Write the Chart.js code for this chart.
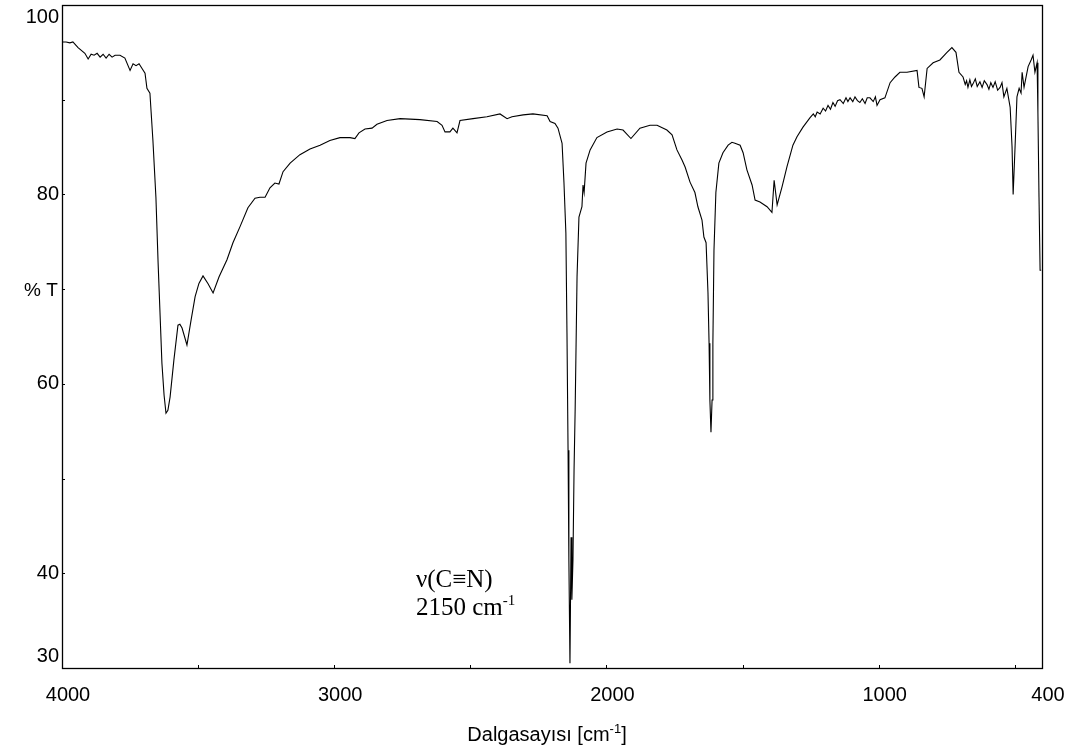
<!DOCTYPE html>
<html lang="tr">
<head>
<meta charset="utf-8">
<title>IR spektrumu</title>
<script src="https://cdn.jsdelivr.net/npm/chart.js@4.4.1/dist/chart.umd.min.js"></script>
<style>
    html, body { margin: 0; padding: 0; background: #fff; }
    #wrap { width: 1076px; height: 751px; }
</style>
</head>
<body>
<div id="wrap"><canvas id="irChart" width="1076" height="751"></canvas></div>
<script>
// Número de onda (cm-1)
const wavenumbers = [
    4000, 3985, 3971, 3960, 3941, 3916, 3904, 3893, 3882, 3871, 3860, 3849, 3838, 3827, 3816, 3805,
    3787, 3769, 3750, 3739, 3728, 3717, 3706, 3695, 3688, 3677, 3666, 3655, 3647, 3640, 3633, 3625,
    3618, 3611, 3603, 3589, 3574, 3567, 3559, 3541, 3526, 3511, 3497, 3482, 3464, 3445, 3423, 3394,
    3372, 3346, 3317, 3291, 3273, 3254, 3236, 3218, 3203, 3188, 3162, 3126, 3089, 3052, 3016, 2979,
    2942, 2924, 2909, 2887, 2861, 2843, 2806, 2758, 2685, 2622, 2604, 2593, 2575, 2564, 2549, 2538,
    2490, 2439, 2391, 2365, 2347, 2306, 2270, 2218, 2207, 2189, 2178, 2163, 2156, 2149, 2145, 2141,
    2138, 2134, 2130, 2127, 2123, 2119, 2115, 2108, 2101, 2090, 2086, 2082, 2075, 2060, 2035, 1998,
    1961, 1939, 1910, 1877, 1840, 1814, 1778, 1759, 1741, 1722, 1711, 1693, 1675, 1664, 1649, 1642,
    1634, 1627, 1623, 1620, 1616, 1612, 1609, 1605, 1598, 1587, 1572, 1553, 1539, 1528, 1509, 1498,
    1484, 1465, 1454, 1436, 1410, 1392, 1384, 1373, 1355, 1337, 1315, 1300, 1278, 1252, 1240, 1233,
    1226, 1215, 1204, 1195, 1186, 1177, 1168, 1160, 1151, 1142, 1130, 1120, 1113, 1105, 1095, 1087,
    1078, 1069, 1060, 1050, 1042, 1032, 1020, 1012, 1006, 995, 977, 958, 940, 922, 896, 859,
    852, 841, 833, 822, 800, 775, 749, 731, 716, 705, 690, 682, 677, 672, 665, 659,
    653, 645, 638, 628, 620, 612, 602, 595, 588, 580, 572, 563, 554, 547, 540, 529,
    517, 510, 506, 499, 492, 484, 477, 473, 466, 451, 440, 433, 426, 418, 415, 411,
    407, 403
];

// Transmitância (%T)
const transmittance = [
    96.1, 96.1, 96.0, 96.1, 95.5, 94.9, 94.3, 94.8, 94.7, 94.9, 94.5, 94.8, 94.4, 94.8, 94.5, 94.7,
    94.7, 94.4, 93.1, 93.8, 93.6, 93.8, 93.3, 92.8, 91.2, 90.7, 85.7, 79.7, 72.8, 67.5, 62.2, 58.8,
    56.9, 57.2, 58.6, 62.5, 66.2, 66.3, 65.9, 64.1, 66.7, 69.2, 70.6, 71.4, 70.6, 69.6, 71.3, 73.1,
    74.9, 76.6, 78.6, 79.6, 79.7, 79.7, 80.7, 81.2, 81.1, 82.4, 83.3, 84.2, 84.8, 85.2, 85.7, 86.0,
    86.0, 85.9, 86.5, 86.9, 87.0, 87.4, 87.8, 88.0, 87.9, 87.7, 87.3, 86.6, 86.6, 87.0, 86.5, 87.8,
    88.0, 88.2, 88.5, 88.0, 88.2, 88.4, 88.5, 88.3, 87.7, 87.5, 87.0, 85.4, 81.2, 75.9, 65.4, 53.0,
    41.4, 30.5, 43.8, 37.2, 41.4, 50.9, 57.2, 71.3, 77.6, 78.7, 81.0, 80.2, 83.3, 84.7, 86.0, 86.6,
    86.9, 86.8, 85.9, 87.0, 87.3, 87.3, 86.8, 86.3, 84.7, 83.6, 82.9, 81.3, 80.2, 78.7, 77.3, 75.5,
    74.9, 69.6, 64.3, 58.3, 54.9, 58.3, 64.3, 74.1, 80.2, 83.3, 84.4, 85.2, 85.5, 85.4, 85.2, 84.4,
    82.6, 81.0, 79.4, 79.2, 78.7, 78.1, 81.5, 78.9, 80.8, 82.9, 85.2, 86.1, 87.1, 88.1, 88.5, 88.2,
    88.7, 88.5, 89.1, 88.8, 89.4, 89.0, 89.7, 89.3, 89.9, 90.0, 89.6, 90.2, 89.8, 90.2, 89.8, 90.3,
    89.9, 89.7, 90.1, 89.6, 90.2, 90.2, 89.8, 90.3, 89.4, 90.0, 90.2, 91.8, 92.4, 92.9, 92.9, 93.1,
    91.3, 91.2, 90.3, 93.3, 93.9, 94.2, 95.0, 95.5, 95.0, 92.9, 92.4, 91.6, 92.0, 91.3, 92.1, 91.4,
    91.7, 92.2, 91.4, 91.9, 91.3, 92.0, 91.6, 91.1, 91.8, 91.3, 91.9, 91.0, 91.3, 91.8, 90.3, 91.2,
    89.2, 85.0, 80.0, 85.0, 90.3, 91.2, 90.7, 92.9, 91.3, 93.5, 94.2, 94.7, 92.9, 93.9, 88.6, 79.7,
    72.0, 72.0
];

// Marcas e rótulos dos eixos
const xTickValues = [4000, 3500, 3000, 2500, 2000, 1500, 1000, 500, 400];
const xLabelValues = [4000, 3000, 2000, 1000, 400];
const yTickValues = [30, 40, 50, 60, 70, 80, 90, 100];
const yLabelValues = [30, 40, 60, 80, 100];

// Textos
const xTitle = 'Dalgasayısı [cm';
const yTitle = '% T';
const bandName = 'ν(C≡N)';
const bandPosition = '2150 cm';

const sansFont = '"Liberation Sans", Arial, sans-serif';
const serifFont = '"Liberation Serif", "Times New Roman", serif';

// Escreve um texto com expoente "-1"
function drawWithSup(ctx, parts, x, y, align) {
    let total = 0;
    parts.forEach(p => {
        ctx.font = p.font;
        total += ctx.measureText(p.text).width;
    });
    let cx = align === 'center' ? x - total / 2 : x;
    parts.forEach(p => {
        ctx.font = p.font;
        ctx.fillText(p.text, cx, y + (p.dy || 0));
        cx += ctx.measureText(p.text).width;
    });
}

// Moldura, marcas internas e textos extras
const extrasPlugin = {
    id: 'extras',
    afterDraw(chart) {
        const ctx = chart.ctx;
        const area = chart.chartArea;
        const xs = chart.scales.x;
        const ys = chart.scales.y;

        ctx.save();
        ctx.strokeStyle = '#000';
        ctx.lineWidth = 1.3;
        ctx.strokeRect(area.left + 0.5, area.top + 0.5, area.right - area.left, area.bottom - area.top);

        ctx.lineWidth = 1;
        ctx.beginPath();
        xTickValues.forEach(v => {
            const px = Math.round(xs.getPixelForValue(v)) + 0.5;
            ctx.moveTo(px, area.bottom);
            ctx.lineTo(px, area.bottom - 3);
        });
        yTickValues.forEach(v => {
            const py = Math.round(ys.getPixelForValue(v)) + 0.5;
            ctx.moveTo(area.left, py);
            ctx.lineTo(area.left + 3, py);
        });
        ctx.stroke();

        ctx.fillStyle = '#000';
        ctx.textBaseline = 'alphabetic';
        ctx.textAlign = 'left';

        // Título do eixo x
        drawWithSup(ctx, [
            { text: xTitle, font: '20px ' + sansFont },
            { text: '-1', font: '13px ' + sansFont, dy: -8 },
            { text: ']', font: '20px ' + sansFont }
        ], (area.left + area.right) / 2 - 5, 741, 'center');

        // Título do eixo y (horizontal)
        ctx.font = '19px ' + sansFont;
        ctx.fillText(yTitle, 24, ys.getPixelForValue(70) + 7);

        // Anotação da banda C≡N
        const ax = xs.getPixelForValue(2700);
        const ay = ys.getPixelForValue(38.5);
        ctx.font = '25px ' + serifFont;
        ctx.fillText(bandName, ax, ay);
        drawWithSup(ctx, [
            { text: bandPosition, font: '25px ' + serifFont },
            { text: '-1', font: '15px ' + serifFont, dy: -10 }
        ], ax, ay + 28, 'left');
        ctx.restore();
    }
};

const points = wavenumbers.map((w, i) => ({ x: w, y: transmittance[i] }));

new Chart(document.getElementById('irChart'), {
    type: 'line',
    data: {
        datasets: [{
            data: points,
            borderColor: '#000',
            borderWidth: 1.1,
            pointRadius: 0,
            tension: 0,
            fill: false
        }]
    },
    options: {
        responsive: false,
        animation: false,
        events: [],
        layout: { padding: { top: 5, right: 34, bottom: 0, left: 0 } },
        plugins: {
            legend: { display: false },
            tooltip: { enabled: false }
        },
        scales: {
            x: {
                type: 'linear',
                reverse: true,
                min: 400,
                max: 4000,
                afterBuildTicks: s => { s.ticks = xLabelValues.map(v => ({ value: v })); },
                afterFit: s => {
                    s.height = 83;
                    s.paddingLeft = 0;
                    s.paddingRight = 0;
                },
                grid: { display: false, drawTicks: false },
                border: { display: false },
                ticks: {
                    color: '#000',
                    font: { family: sansFont, size: 20 },
                    padding: 15,
                    labelOffset: 6,
                    maxRotation: 0,
                    autoSkip: false,
                    callback: v => String(v)
                }
            },
            y: {
                type: 'linear',
                min: 30,
                max: 100,
                afterBuildTicks: s => { s.ticks = yLabelValues.map(v => ({ value: v })); },
                afterFit: s => {
                    s.width = 62;
                    s.paddingTop = 0;
                    s.paddingBottom = 0;
                },
                grid: { display: false, drawTicks: false },
                border: { display: false },
                ticks: {
                    color: '#000',
                    font: { family: sansFont, size: 20 },
                    padding: 3,
                    autoSkip: false,
                    callback: v => {
                        // rótulos das pontas ficam dentro da moldura
                        if (v === 30) return ['30', ''];
                        if (v === 100) return ['', '100'];
                        return String(v);
                    }
                }
            }
        }
    },
    plugins: [extrasPlugin]
});
</script>
</body>
</html>
